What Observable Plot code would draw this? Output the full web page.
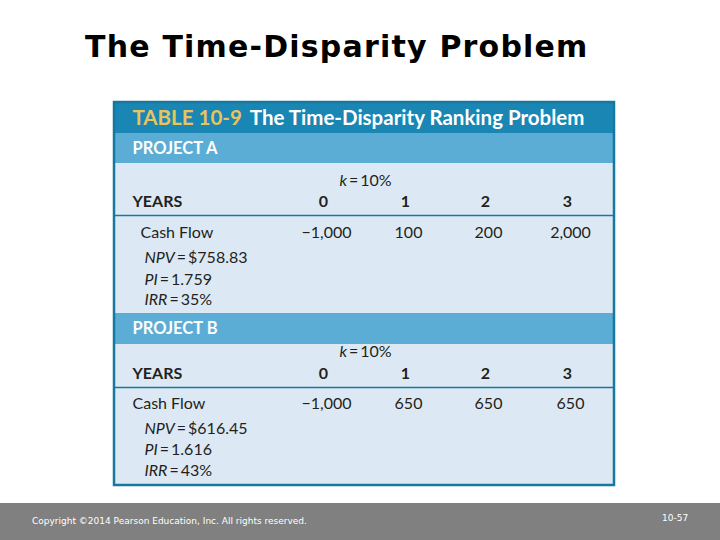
<!DOCTYPE html>
<html>
<head>
<meta charset="utf-8">
<script src="https://cdn.jsdelivr.net/npm/d3@7"></script>
<script src="https://cdn.jsdelivr.net/npm/@observablehq/plot@0.6"></script>
<style>
  html, body { margin: 0; padding: 0; background: #ffffff; }
  #page { position: relative; width: 720px; height: 540px; overflow: hidden; }
  #title { height: 95px; box-sizing: border-box; padding-top: 32px; padding-left: 85px;
           font-family: "DejaVu Sans", Verdana, sans-serif; font-weight: bold; font-size: 30px;
           line-height: 30px; letter-spacing: 1.2px; color: #000; white-space: nowrap; }
  #chart svg { display: block; }
  #footer { position: relative; height: 37px; background: #808080; color: #fff;
            font-family: "DejaVu Sans", Verdana, sans-serif; font-size: 9px; }
  #footer .left { position: absolute; left: 32px; top: 13px; }
  #footer .right { position: absolute; left: 662px; top: 10px; }
</style>
</head>
<body>
<div id="page">
  <div id="title">The Time-Disparity Problem</div>
  <div id="chart"></div>
  <div id="footer"><span class="left">Copyright ©2014 Pearson Education, Inc. All rights reserved.</span><span class="right">10-57</span></div>
</div>
<script>
// ---------- data ----------
const tableNumber = "TABLE 10-9";
const tableTitle = "The Time-Disparity Ranking Problem";
const projects = ["PROJECT A", "PROJECT B"];
const discountRate = "10%";
const yearsLabel = "YEARS";
const cashFlowLabel = "Cash Flow";
const years = [0, 1, 2, 3];
const cashFlowA = [-1000, 100, 200, 2000];
const cashFlowB = [-1000, 650, 650, 650];
const metricNames = ["NPV", "PI", "IRR"];
const metricsA = ["$758.83", "1.759", "35%"];
const metricsB = ["$616.45", "1.616", "43%"];

// ---------- layout (page pixel coordinates) ----------
const L = {
  top: 95, bottom: 503, x0: 114, x1: 614, labelX: 132, metricX: 144,
  colX: [326, 408, 488, 570],
  header: [102, 133],
  sections: [
    {band: [133, 163], body: [163, 313], k: 180, years: 201, sep: 215, cash: 232, cashX: 140, metrics: [257, 279, 299]},
    {band: [313, 344], body: [344, 485], k: 351, years: 373, sep: 387, cash: 403, cashX: 132, metrics: [428, 449, 470]}
  ]
};
const C = {header: "#1a86b4", band: "#5badd5", body: "#dce9f4", border: "#17789f", gold: "#e9c45c", ink: "#231f20"};
const fmt = d3.format(",");

const cashFlows = [cashFlowA, cashFlowB];
const metrics = [metricsA, metricsB];

const bands = [{y1: L.header[0], y2: L.header[1], fill: C.header}];
const seps = [];
const projLabels = [], kLabels = [], yearLabels = [], yearNums = [], cashLabels = [], cashVals = [], metricRows = [];
projects.forEach((p, i) => {
  const s = L.sections[i];
  bands.push({y1: s.band[0], y2: s.band[1], fill: C.band});
  bands.push({y1: s.body[0], y2: s.body[1], fill: C.body});
  seps.push({y: s.sep});
  projLabels.push({text: p, y: (s.band[0] + s.band[1]) / 2});
  kLabels.push({text: "k = " + discountRate, y: s.k});
  yearLabels.push({text: yearsLabel, y: s.years});
  years.forEach((yr, j) => yearNums.push({text: String(yr), x: L.colX[j] - 3, y: s.years}));
  cashLabels.push({text: cashFlowLabel, x: s.cashX, y: s.cash});
  cashFlows[i].forEach((v, j) => cashVals.push({text: fmt(v), x: L.colX[j], y: s.cash}));
  metricNames.forEach((m, j) => metricRows.push({text: m + " = " + metrics[i][j], y: s.metrics[j]}));
});

const font = "Lato, 'Noto Sans', sans-serif";
const body = {fill: C.ink, fontSize: 16, letterSpacing: "-0.4px"};
const plot = Plot.plot({
  width: 720, height: L.bottom - L.top,
  margin: 0,
  x: {domain: [0, 720], range: [0, 720], axis: null},
  y: {domain: [L.top, L.bottom], range: [0, L.bottom - L.top], axis: null},
  style: {fontFamily: font, background: "transparent"},
  marks: [
    Plot.rect(bands, {x1: L.x0, x2: L.x1, y1: "y1", y2: "y2", fill: "fill"}),
    Plot.ruleY(seps, {y: "y", x1: L.x0, x2: L.x1, stroke: C.border, strokeWidth: 1.5}),
    Plot.rect([0], {x1: L.x0, x2: L.x1, y1: L.header[0], y2: L.sections[1].body[1], fill: "none", stroke: C.border, strokeWidth: 2.5}),
    Plot.text([tableNumber + "  " + tableTitle], {x: L.labelX, y: (L.header[0] + L.header[1]) / 2, text: d => d, textAnchor: "start", fill: "#fff", fontSize: 20.5, fontWeight: "bold", ariaDescription: "tabletitle"}),
    Plot.text(projLabels, {x: L.labelX, y: "y", text: "text", textAnchor: "start", fill: "#fff", fontSize: 16.5, fontWeight: "bold"}),
    Plot.text(kLabels, {x: 365, y: "y", text: "text", textAnchor: "middle", ...body, ariaDescription: "italicfirst"}),
    Plot.text(yearLabels, {x: L.labelX, y: "y", text: "text", textAnchor: "start", ...body, fontWeight: "bold"}),
    Plot.text(yearNums, {x: "x", y: "y", text: "text", textAnchor: "middle", ...body, fontWeight: "bold"}),
    Plot.text(cashLabels, {x: "x", y: "y", text: "text", textAnchor: "start", ...body}),
    Plot.text(cashVals, {x: "x", y: "y", text: "text", textAnchor: "middle", ...body}),
    Plot.text(metricRows, {x: L.metricX, y: "y", text: "text", textAnchor: "start", ...body, ariaDescription: "italicfirst"})
  ]
});

// mixed styles inside single text elements
const svg = d3.select(plot);
svg.selectAll('g[aria-description="italicfirst"] text').each(function() {
  const t = d3.select(this);
  const s = t.text();
  const k = s.indexOf(" = ");
  if (k < 0) return;
  t.text(null);
  t.append("tspan").attr("font-style", "italic").text(s.slice(0, k));
  t.append("tspan").text("\u2009=\u2009" + s.slice(k + 3));
});
svg.selectAll('g[aria-description="tabletitle"] text').each(function() {
  const t = d3.select(this);
  const s = t.text();
  t.text(null);
  t.append("tspan").attr("fill", C.gold).text(tableNumber);
  t.append("tspan").attr("dx", 8).text(s.slice(tableNumber.length).trim());
});

document.getElementById("chart").appendChild(plot);
</script>
</body>
</html>
